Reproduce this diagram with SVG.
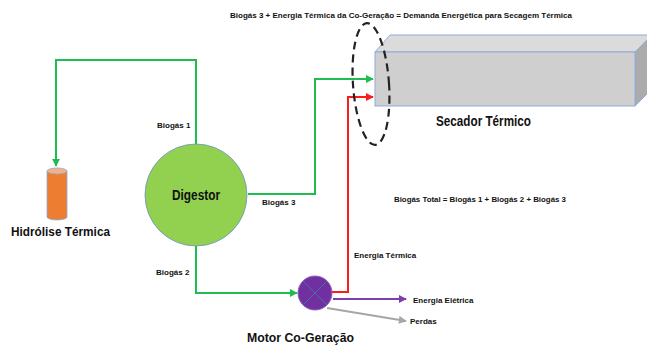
<svg xmlns="http://www.w3.org/2000/svg" width="647" height="349" viewBox="0 0 647 349">
<style>
text{font-family:"Liberation Sans",Arial,sans-serif;font-weight:bold;fill:#111}
.s{font-size:8px}
.m{font-size:13.5px}
.l{font-size:15px}
.ln{fill:none;stroke-width:2}
</style>
<defs>
<marker id="ag" viewBox="0 0 10 10" refX="9" refY="5" markerWidth="4" markerHeight="4" orient="auto"><path d="M0,0L10,5L0,10z" fill="#1DBE4F"/></marker>
<marker id="ar" viewBox="0 0 10 10" refX="9" refY="5" markerWidth="4" markerHeight="4" orient="auto"><path d="M0,0L10,5L0,10z" fill="#FF1A1A"/></marker>
<marker id="ap" viewBox="0 0 10 10" refX="9" refY="5" markerWidth="4" markerHeight="4" orient="auto"><path d="M0,0L10,5L0,10z" fill="#7B3FB0"/></marker>
<marker id="ay" viewBox="0 0 10 10" refX="9" refY="5" markerWidth="4" markerHeight="4" orient="auto"><path d="M0,0L10,5L0,10z" fill="#A6A6A6"/></marker>
</defs>
<text class="s" x="230" y="18" textLength="342" lengthAdjust="spacingAndGlyphs">Biogás 3 + Energia Térmica da Co-Geração = Demanda Energética para Secagem Térmica</text>
<g id="secador">
<path d="M375,52L390,35L652,35L637,52z" fill="#DCDBDB" stroke="#8FAADC" stroke-width="1"/>
<path d="M635,52L652,35L652,89L635,106z" fill="#ABABAB" stroke="#8FAADC" stroke-width="1"/>
<rect x="375" y="52" width="260" height="54" fill="#D0CFCF" stroke="#8FAADC" stroke-width="1"/>
<text class="l" x="436" y="126" textLength="95" lengthAdjust="spacingAndGlyphs">Secador Térmico</text>
</g>
<g id="hidrolise">
<path d="M47,171v46a10,3 0 0 0 20,0v-46z" fill="#ED7D31" stroke="#8FAADC" stroke-width="0.8"/>
<ellipse cx="57" cy="171" rx="10" ry="3" fill="#F4B183" stroke="#8FAADC" stroke-width="0.8"/>
<text class="m" x="11" y="236" textLength="99" lengthAdjust="spacingAndGlyphs">Hidrólise Térmica</text>
</g>
<g id="connectors">
<path class="ln" d="M196,146V60H56V166" stroke="#1DBE4F" marker-end="url(#ag)"/>
<path class="ln" d="M248,194H315V79H373" stroke="#1DBE4F" marker-end="url(#ag)"/>
<path class="ln" d="M196,244V293H297" stroke="#1DBE4F" marker-end="url(#ag)"/>
<path class="ln" d="M332,292H348V97H373" stroke="#FF1A1A" marker-end="url(#ar)"/>
<path class="ln" d="M333,299H406" stroke="#7B3FB0" marker-end="url(#ap)"/>
<path class="ln" d="M327,308L406,321" stroke="#A6A6A6" marker-end="url(#ay)"/>
<text class="s" x="157" y="128">Biogás 1</text>
<text class="s" x="262" y="205">Biogás 3</text>
<text class="s" x="156" y="275">Biogás 2</text>
<text class="s" x="354" y="258">Energia Térmica</text>
<text class="s" x="413" y="303">Energia Elétrica</text>
<text class="s" x="410" y="324">Perdas</text>
</g>
<g id="digestor">
<circle cx="196" cy="195" r="51" fill="#92D050" stroke="#6F8FC0" stroke-width="0.8"/>
<text x="172" y="200" textLength="48" lengthAdjust="spacingAndGlyphs" style="font-size:14px">Digestor</text>
</g>
<g id="motor">
<circle cx="315" cy="293" r="17" fill="#7030A0" stroke="#8E62B8" stroke-width="1"/>
<path d="M303,281L327,305M327,281L303,305" stroke="#5566B0" stroke-width="1"/>
<text class="m" x="247" y="342" textLength="107" lengthAdjust="spacingAndGlyphs">Motor Co-Geração</text>
</g>
<g id="fronteira">
<ellipse cx="371" cy="84" rx="18" ry="61" transform="rotate(-4 371 84)" fill="none" stroke="#222" stroke-width="2.2" stroke-dasharray="8 5"/>
</g>
<text class="s" x="394" y="202" textLength="172" lengthAdjust="spacingAndGlyphs">Biogás Total = Biogás 1 + Biogás 2 + Biogás 3</text>
</svg>
